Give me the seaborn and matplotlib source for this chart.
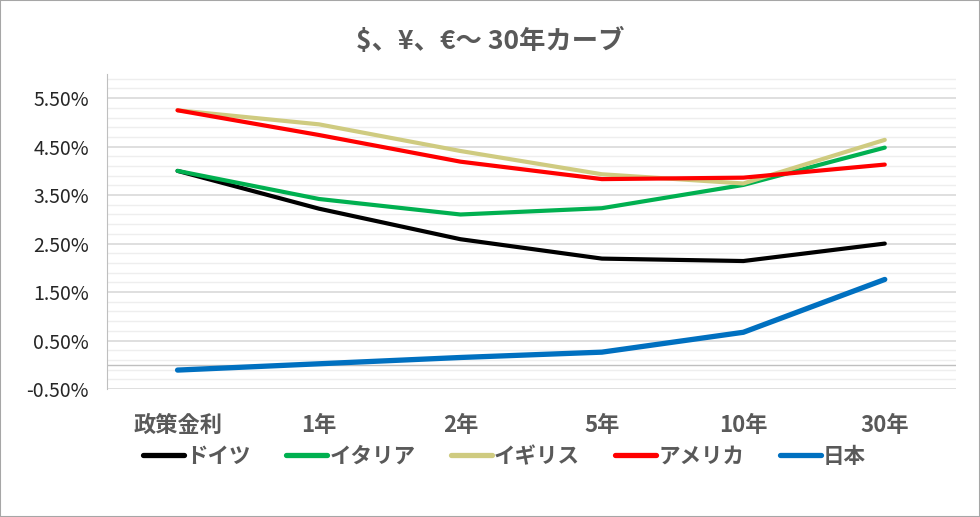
import matplotlib
matplotlib.use('Agg')
import matplotlib.pyplot as plt
from matplotlib.patches import Rectangle
from matplotlib.ticker import FixedLocator, FuncFormatter
import numpy as np
import pandas as pd
import seaborn as sns

sns.set_style('white')
plt.rcParams['font.family'] = ['Noto Sans CJK JP', 'DejaVu Sans']

# data (yields in %)
tenors = ['政策金利', '1年', '2年', '5年', '10年', '30年']
germany = [4.00, 3.22, 2.59, 2.19, 2.14, 2.50]
italy = [4.00, 3.42, 3.10, 3.23, 3.71, 4.48]
uk = [5.25, 4.96, 4.41, 3.93, 3.74, 4.64]
usa = [5.25, 4.74, 4.19, 3.83, 3.86, 4.13]
japan = [-0.11, 0.02, 0.15, 0.26, 0.67, 1.76]

series = {'ドイツ': germany, 'イタリア': italy, 'イギリス': uk,
          'アメリカ': usa, '日本': japan}
colors = {'ドイツ': '#000000', 'イタリア': '#00B050', 'イギリス': '#CFCB80',
          'アメリカ': '#FF0000', '日本': '#0070C0'}

df = pd.DataFrame([
    {'tenor': t, 'pos': i, 'country': c, 'rate': v}
    for c, vals in series.items() for i, (t, v) in enumerate(zip(tenors, vals))
])

fig = plt.figure(figsize=(9.8, 5.17), dpi=100)
ax = fig.add_axes([0.109, 0.2476, 0.866, 0.6094])

sns.lineplot(data=df, x='pos', y='rate', hue='country', hue_order=list(series),
             palette=colors, ax=ax, linewidth=3.0, legend=False)
for line in ax.get_lines():
    line.set_solid_capstyle('round')
    line.set_solid_joinstyle('round')
    if line.get_color() == '#0070C0':
        line.set_linewidth(3.8)

ax.set_xlim(-0.5, 5.5)
ax.set_ylim(-0.5, 6.0)
ax.set_xticks(range(len(tenors)))
ax.set_xticklabels(tenors, fontsize=16, fontweight='bold', color='#595959')
ax.yaxis.set_major_locator(FixedLocator(np.arange(-0.5, 5.6, 1.0)))
ax.yaxis.set_minor_locator(FixedLocator(np.arange(-0.3, 6.0, 0.2)))
ax.yaxis.set_major_formatter(FuncFormatter(lambda v, p: f'{v:.2f}%'))
ax.tick_params(axis='y', labelsize=14, labelcolor='#262626', length=0, pad=13)
ax.tick_params(axis='x', length=0, pad=18)
ax.tick_params(axis='y', which='minor', length=0)
ax.grid(axis='y', which='major', color='#d9d9d9', linewidth=1.2)
ax.grid(axis='y', which='minor', color='#eeeeee', linewidth=1.0)
ax.set_axisbelow(True)
ax.axhline(0, color='#bfbfbf', linewidth=1.0, zorder=1)
for s in ['top', 'right', 'bottom']:
    ax.spines[s].set_visible(False)
ax.spines['left'].set_color('#bfbfbf')
ax.set_xlabel('')
ax.set_ylabel('')

fig.suptitle('$、¥、€～ 30年カーブ', x=0.5, y=0.919, va='center', fontsize=19,
             fontweight='bold', color='#595959')

handles = [plt.Line2D([], [], color=colors[c], linewidth=3.8, solid_capstyle='round')
           for c in series]
leg = fig.legend(handles, list(series), loc='center', bbox_to_anchor=(0.515, 0.117),
                 ncol=5, frameon=False, handlelength=1.9, handletextpad=0.1,
                 columnspacing=1.65, prop={'size': 15.5, 'weight': 'bold'})
for t in leg.get_texts():
    t.set_color('#595959')

fig.patches.append(Rectangle((0, 0), 1, 1, transform=fig.transFigure, fill=False,
                             edgecolor='#a6a6a6', linewidth=1.5))

fig.savefig('out.png', dpi=100)
plt.close()
